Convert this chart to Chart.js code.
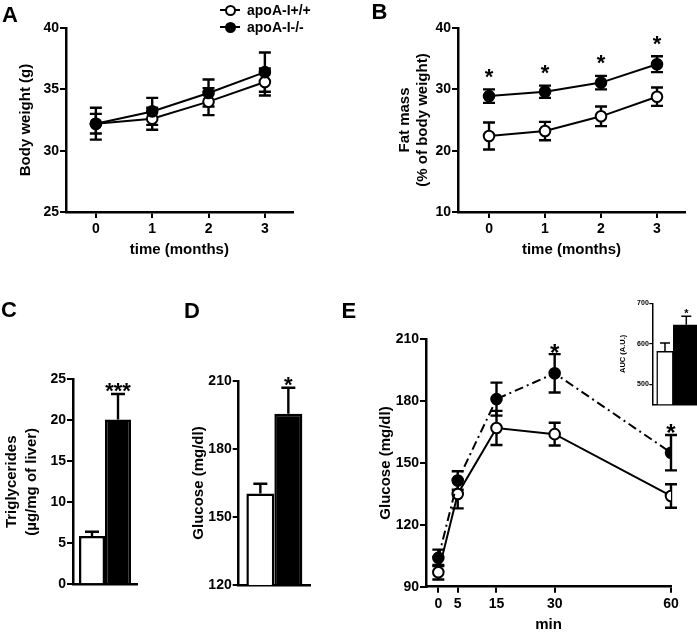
<!DOCTYPE html>
<html><head><meta charset="utf-8">
<script src="https://cdn.jsdelivr.net/npm/chart.js@4.4.1/dist/chart.umd.min.js"></script>
<style>
html,body{margin:0;padding:0;overflow:hidden;background:#fff;}
#fig{position:relative;width:697px;height:636px;overflow:hidden;font-family:'Liberation Sans',Arial,sans-serif;color:#000;}
canvas{position:absolute;}
.lbl{position:absolute;font-weight:bold;font-size:22px;line-height:1;}
.lg-line{position:absolute;width:20px;height:2px;background:#000;}
.lg-dot{position:absolute;width:11px;height:11px;border-radius:50%;border:2px solid #000;box-sizing:border-box;}
.lg-txt{position:absolute;font-weight:bold;font-size:14px;line-height:16px;white-space:nowrap;}
</style></head>
<body><div id="fig"></div>
<script>
// ---------------- data ----------------
const groups = ['apoA-I+/+', 'apoA-I-/-'];
const months = [0, 1, 2, 3];
const monthTicks = [0, 1, 2, 3];
const bodyWeightWT = [32.2, 32.6, 34.0, 35.6];
const bodyWeightWTErr = [0.8, 0.9, 1.1, 1.1];
const bodyWeightKO = [32.2, 33.2, 34.7, 36.4];
const bodyWeightKOErr = [1.3, 1.1, 1.1, 1.6];
const bodyWeightTicks = [25, 30, 35, 40];
const fatMassWT = [22.4, 23.2, 25.6, 28.8];
const fatMassWTErr = [2.2, 1.5, 1.6, 1.5];
const fatMassKO = [28.9, 29.6, 31.1, 34.1];
const fatMassKOErr = [1.1, 1.0, 1.1, 1.3];
const fatMassStars = ['*', '*', '*', '*'];
const fatMassTicks = [10, 20, 30, 40];
const liverTG = [5.9, 20.1];
const liverTGErr = [0.5, 3.1];
const liverTGStars = ['', '***'];
const liverTGTicks = [0, 5, 10, 15, 20, 25];
const fastGlucose = [160.4, 195.6];
const fastGlucoseErr = [4.3, 11.4];
const fastGlucoseStars = ['', '*'];
const fastGlucoseTicks = [120, 150, 180, 210];
const gttTimes = [0, 5, 15, 30, 60];
const gttWT = [97, 135, 167, 164, 134];
const gttWTErr = [3.5, 7, 8.3, 5.5, 5.7];
const gttKO = [104, 141.5, 181, 193.5, 155];
const gttKOErr = [4, 4.5, 8, 9.3, 8.6];
const gttStars = ['', '', '', '*', '*'];
const gttYTicks = [90, 120, 150, 180, 210];
const aucMeans = [581, 647];
const aucErr = [21, 21];
const aucStars = ['', '*'];
const aucTicks = [500, 600, 700];

// ---------------- helpers ----------------
const FONT = "'Liberation Sans', Arial, sans-serif";
Chart.defaults.font.family = FONT;
Chart.defaults.color = '#000';
const fills = ['#fff', '#000'];

const errPlugin = {
  id: 'errbars',
  beforeDatasetsDraw(chart, args, o) { if (o.before) drawErr(chart, o); },
  afterDatasetsDraw(chart, args, o) { if (!o.before) drawErr(chart, o); drawStars(chart, o); }
};
function valOf(d) { return (d !== null && typeof d === 'object') ? d.y : d; }
function drawErr(chart, o) {
  const ctx = chart.ctx, ys = chart.scales.y;
  chart.data.datasets.forEach((ds, di) => {
    if (!ds.errors) return;
    const meta = chart.getDatasetMeta(di);
    meta.data.forEach((el, i) => {
      const v = valOf(ds.data[i]); const e = ds.errors[i];
      if (v == null || e == null) return;
      const x = el.x, half = o.cap / 2;
      const yTop = ys.getPixelForValue(v + e);
      const yBot = o.oneSided ? el.y : ys.getPixelForValue(v - e);
      ctx.save();
      ctx.strokeStyle = '#000'; ctx.lineWidth = o.width; ctx.lineCap = 'butt';
      ctx.beginPath();
      ctx.moveTo(x, yTop); ctx.lineTo(x, yBot);
      ctx.moveTo(x - half, yTop); ctx.lineTo(x + half, yTop);
      if (!o.oneSided) { ctx.moveTo(x - half, yBot); ctx.lineTo(x + half, yBot); }
      ctx.stroke();
      ctx.restore();
    });
  });
}
function drawStars(chart, o) {
  const ctx = chart.ctx, ys = chart.scales.y;
  chart.data.datasets.forEach((ds, di) => {
    if (!ds.stars) return;
    const meta = chart.getDatasetMeta(di);
    meta.data.forEach((el, i) => {
      const s = ds.stars[i]; if (!s) return;
      const v = valOf(ds.data[i]); const e = ds.errors ? ds.errors[i] : 0;
      const yTop = ys.getPixelForValue(v + e);
      ctx.save();
      ctx.fillStyle = '#000';
      ctx.font = 'bold ' + o.starSize + 'px ' + FONT;
      ctx.textAlign = 'center'; ctx.textBaseline = 'alphabetic';
      ctx.fillText(s, el.x, yTop - o.starGap + 0.56 * o.starSize);
      ctx.restore();
    });
  });
}
Chart.register(errPlugin);

const fig = document.getElementById('fig');
function place(box) {
  const c = document.createElement('canvas');
  c.width = box.w; c.height = box.h;
  c.style.left = box.x + 'px'; c.style.top = box.y + 'px';
  fig.appendChild(c);
  return c;
}
function yAxis(o) {
  return {
    type: 'linear', position: 'left', min: o.min, max: o.max,
    afterBuildTicks: s => { s.ticks = o.ticks.map(v => ({ value: v })); },
    afterFit: s => { s.width = o.width; },
    ticks: { autoSkip: false, color: '#000', font: { size: o.fs || 14, weight: 'bold' }, padding: o.tp ?? 1 },
    grid: { drawOnChartArea: false, drawTicks: true, tickLength: o.tl || 6, color: '#000', lineWidth: o.lw || 2 },
    border: { display: true, color: '#000', width: o.bw || 2.5 },
    title: { display: true, text: o.title, color: '#000', font: { size: o.tfs || 15, weight: 'bold', lineHeight: o.lh || 1.2 }, padding: { top: o.pt, bottom: 0 } }
  };
}
function xLinear(o) {
  return {
    type: 'linear', position: 'bottom', min: o.min, max: o.max, offset: false,
    afterBuildTicks: s => { s.ticks = o.ticks.map(v => ({ value: v })); },
    afterFit: s => { s.height = o.height; },
    ticks: { autoSkip: false, maxRotation: 0, color: '#000', font: { size: 14, weight: 'bold' }, padding: o.tp ?? 3 },
    grid: { drawOnChartArea: false, drawTicks: true, tickLength: 6, color: '#000', lineWidth: 2 },
    border: { display: true, color: '#000', width: 2.5 },
    title: { display: true, text: o.title, color: '#000', font: { size: 15, weight: 'bold' }, padding: { top: 0, bottom: o.pb } }
  };
}
function xPlain(o) {
  return Object.assign({
    position: 'bottom',
    afterFit: s => { s.height = o.height; },
    ticks: { display: false },
    grid: { display: false },
    border: { display: true, color: '#000', width: o.bw || 2.5 }
  }, o.extra || {});
}
function baseOptions(box, area, errOpts, scales, extra) {
  return Object.assign({
    responsive: false, animation: false, devicePixelRatio: 1, events: [],
    layout: { padding: { top: area.top - box.y, right: box.x + box.w - area.right, left: 0, bottom: 0 } },
    plugins: { legend: { display: false }, tooltip: { enabled: false }, title: { display: false }, errbars: errOpts },
    scales: scales
  }, extra || {});
}
function xy(xs, ys) { return xs.map((x, i) => ({ x: x, y: ys[i] })); }
function lineSet(label, xs, ys, errs, filled, stars, dash) {
  return {
    label: label, data: xy(xs, ys), errors: errs, stars: stars,
    borderColor: '#000', borderWidth: 2, borderDash: dash || [], tension: 0, fill: false,
    pointRadius: 5.3, pointBorderWidth: 2, pointBorderColor: '#000',
    pointBackgroundColor: filled ? '#000' : '#fff'
  };
}

// ---------------- Panel A ----------------
{
  const box = { x: 0, y: 0, w: 300, h: 270 };
  const area = { left: 66, top: 28, right: 294, bottom: 212 };
  new Chart(place(box), {
    type: 'line',
    data: { datasets: [
      lineSet(groups[1], months, bodyWeightKO, bodyWeightKOErr, true),
      lineSet(groups[0], months, bodyWeightWT, bodyWeightWTErr, false)
    ] },
    options: baseOptions(box, area, { before: true, width: 2.4, cap: 12 }, {
      x: xLinear({ min: -0.53, max: 3.494, ticks: monthTicks, height: box.y + box.h - area.bottom, title: 'time (months)', pb: 11 }),
      y: yAxis({ min: 25, max: 40, ticks: bodyWeightTicks, width: area.left - box.x, title: 'Body weight (g)', pt: 17 })
    })
  });
}
// ---------------- Panel B ----------------
{
  const box = { x: 350, y: 0, w: 347, h: 270 };
  const area = { left: 458, top: 28, right: 685, bottom: 212 };
  new Chart(place(box), {
    type: 'line',
    data: { datasets: [
      lineSet(groups[1], months, fatMassKO, fatMassKOErr, true, fatMassStars),
      lineSet(groups[0], months, fatMassWT, fatMassWTErr, false)
    ] },
    options: baseOptions(box, area, { before: true, width: 2.4, cap: 12, starSize: 22, starGap: 18 }, {
      x: xLinear({ min: -0.554, max: 3.5, ticks: monthTicks, height: box.y + box.h - area.bottom, title: 'time (months)', pb: 11 }),
      y: yAxis({ min: 10, max: 40, ticks: fatMassTicks, width: area.left - box.x, title: ['Fat mass', '(% of body weight)'], pt: 45.8, lh: 1.2 })
    })
  });
}
// ---------------- Panel C ----------------
{
  const box = { x: 0, y: 300, w: 150, h: 336 };
  const area = { left: 73, top: 379.3, right: 137, bottom: 584.3 };
  new Chart(place(box), {
    type: 'bar',
    data: { labels: ['TG'], datasets: groups.map((g, i) => ({
      label: g, data: [liverTG[i]], errors: [liverTGErr[i]], stars: [liverTGStars[i]],
      backgroundColor: fills[i], borderColor: '#000', borderWidth: 2.5
    })) },
    options: baseOptions(box, area, { before: false, oneSided: true, width: 2.4, cap: 14, starSize: 22, starGap: 8 }, {
      x: xPlain({ height: box.y + box.h - area.bottom }),
      y: yAxis({ min: 0, max: 25, ticks: liverTGTicks, width: area.left - box.x, title: ['Triglycerides', '(\u00b5g/mg of liver)'], pt: 1.5, lh: 1.33 })
    }, { datasets: { bar: { categoryPercentage: 0.8125, barPercentage: 1 } } })
  });
}
// ---------------- Panel D ----------------
{
  const box = { x: 150, y: 300, w: 180, h: 336 };
  const area = { left: 238.7, top: 381, right: 310, bottom: 585 };
  new Chart(place(box), {
    type: 'bar',
    data: { labels: ['Glucose'], datasets: groups.map((g, i) => ({
      label: g, data: [fastGlucose[i]], errors: [fastGlucoseErr[i]], stars: [fastGlucoseStars[i]],
      backgroundColor: fills[i], borderColor: '#000', borderWidth: 2.5
    })) },
    options: baseOptions(box, area, { before: false, oneSided: true, width: 2.4, cap: 14, starSize: 22, starGap: 8 }, {
      x: xPlain({ height: box.y + box.h - area.bottom }),
      y: yAxis({ min: 120, max: 210, ticks: fastGlucoseTicks, width: area.left - box.x, title: 'Glucose (mg/dl)', pt: 40 })
    }, { datasets: { bar: { categoryPercentage: 0.785, barPercentage: 1 } } })
  });
}
// ---------------- Panel E ----------------
{
  const box = { x: 330, y: 300, w: 367, h: 336 };
  const area = { left: 426, top: 339.3, right: 671, bottom: 586.7 };
  new Chart(place(box), {
    type: 'line',
    data: { datasets: [
      lineSet(groups[1], gttTimes, gttKO, gttKOErr, true, gttStars, [9, 4, 2, 4]),
      lineSet(groups[0], gttTimes, gttWT, gttWTErr, false)
    ] },
    options: baseOptions(box, area, { before: true, width: 2.4, cap: 12, starSize: 24, starGap: 7 }, {
      x: xLinear({ min: -3.18, max: 60, ticks: gttTimes, height: box.y + box.h - area.bottom, title: 'min', pb: 2.2 }),
      y: yAxis({ min: 90, max: 210, ticks: gttYTicks, width: area.left - box.x, title: 'Glucose (mg/dl)', pt: 46.6 })
    })
  });
}
// ---------------- Inset (AUC) ----------------
{
  const box = { x: 590, y: 280, w: 130, h: 140 };
  const area = { left: 652.3, top: 303.3, right: 720, bottom: 404.3 };
  const thick = [16.6, 26];
  new Chart(place(box), {
    type: 'bar',
    data: { datasets: groups.map((g, i) => ({
      label: g, data: [{ x: i + 1, y: aucMeans[i] }], errors: [aucErr[i]], stars: [aucStars[i]],
      backgroundColor: fills[i], borderColor: '#000', borderWidth: 1.5, barThickness: thick[i], grouped: false
    })) },
    options: baseOptions(box, area, { before: false, oneSided: true, width: 1.5, cap: 10, starSize: 11, starGap: 5 }, {
      x: xPlain({ height: box.y + box.h - area.bottom, bw: 1.5, extra: { type: 'linear', min: 0.404, max: 3.582, offset: false } }),
      y: yAxis({ min: 450, max: 700, ticks: aucTicks, width: area.left - box.x, title: 'AUC (A.U.)', pt: 28.5, fs: 7, tfs: 7.5, tl: 3, lw: 1.2, bw: 1.5, tp: 0.5 })
    })
  });
}

// ---------------- panel letters & legend ----------------
function addDiv(cls, text, x, y, extra) {
  const d = document.createElement('div');
  d.className = cls; if (text != null) d.textContent = text;
  d.style.left = x + 'px'; d.style.top = y + 'px';
  if (extra) Object.assign(d.style, extra);
  fig.appendChild(d); return d;
}
addDiv('lbl', 'A', 2, 4);
addDiv('lbl', 'B', 371.5, 1);
addDiv('lbl', 'C', 1, 299);
addDiv('lbl', 'D', 184, 300);
addDiv('lbl', 'E', 341.5, 300);
const legendY = [10, 27];
groups.forEach((g, i) => {
  const y = legendY[i];
  addDiv('lg-line', null, 220, y - 1);
  addDiv('lg-dot', null, 224.5, y - 5.5, { background: fills[i] });
  addDiv('lg-txt', g, 247, y - 8);
});
</script>
</body></html>
